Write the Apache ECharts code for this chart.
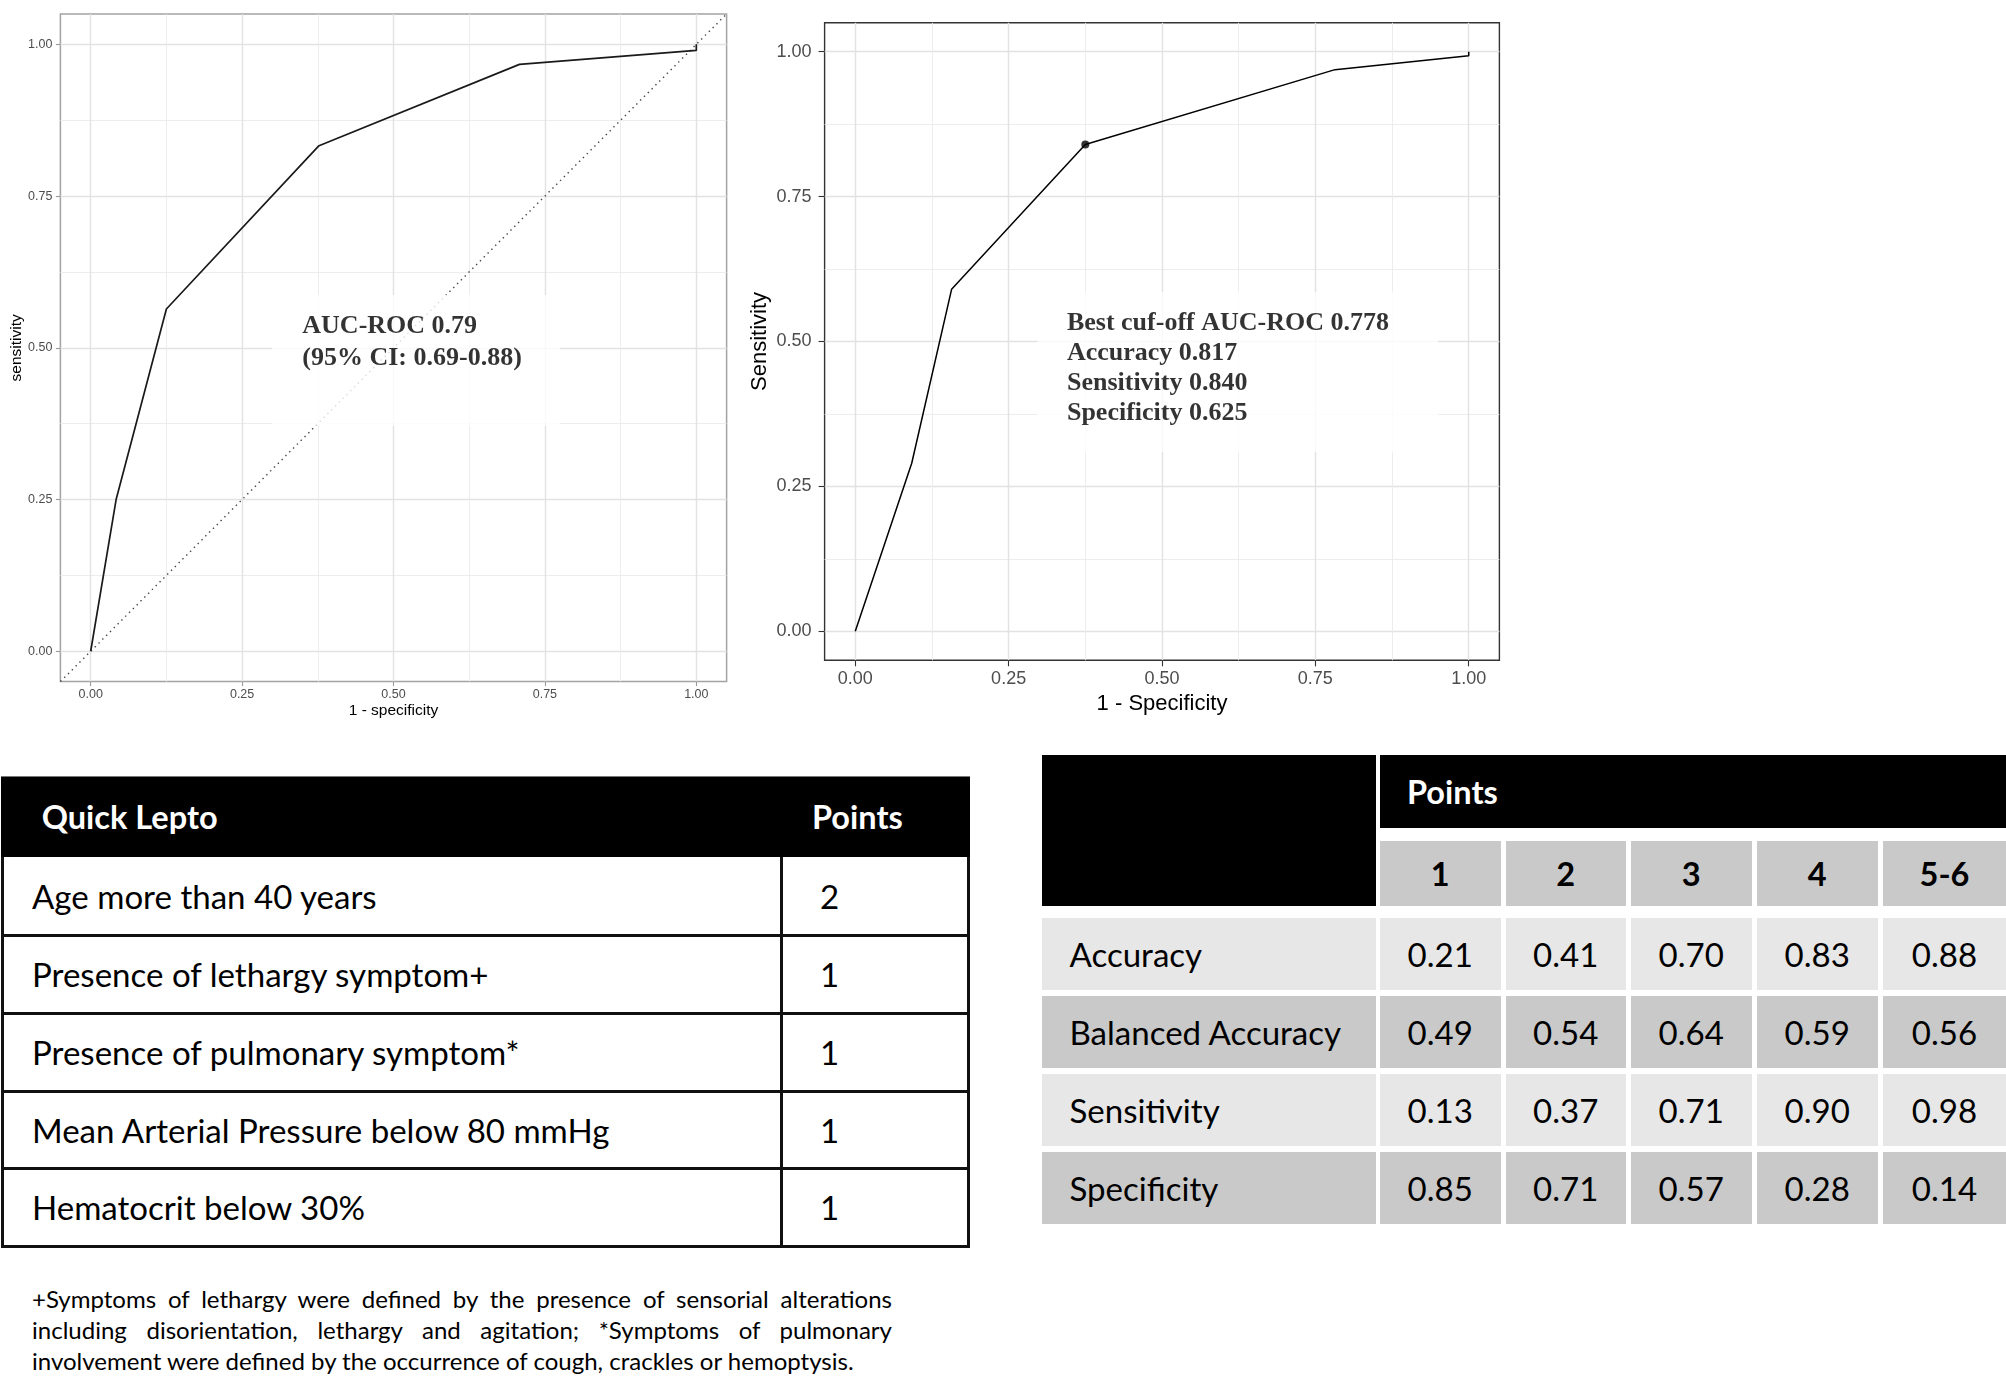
<!DOCTYPE html>
<html><head><meta charset="utf-8">
<script src="https://cdn.jsdelivr.net/npm/echarts@6/dist/echarts.min.js"></script>
<style>
html,body{margin:0;padding:0;background:#fff;}
body{width:2006px;height:1378px;position:relative;overflow:hidden;font-family:Lato,'Liberation Sans',sans-serif;}
#chart{position:absolute;left:0;top:0;width:2006px;height:740px;}
.abs{position:absolute;box-sizing:border-box;}
.cell{position:absolute;box-sizing:border-box;display:flex;align-items:center;white-space:nowrap;}
</style></head><body>
<div id="chart"></div>
<div id="tables"></div>
<script>
// ---------------- DATA ----------------
// Left ROC (1 - specificity vs sensitivity)
const roc1X = [0, 0.042, 0.125, 0.377, 0.708, 1.0, 1.0];
const roc1Y = [0, 0.250, 0.564, 0.833, 0.967, 0.990, 1.0];
const diagX = [-0.05, 1.05];
const diagY = [-0.05, 1.05];
const anno1Lines = ['AUC-ROC 0.79', '(95% CI: 0.69-0.88)'];

// Right ROC
const roc2X = [0, 0.092, 0.157, 0.375, 0.782, 1.0, 1.0];
const roc2Y = [0, 0.290, 0.590, 0.840, 0.969, 0.993, 1.0];
const cutoffX = [0.375];
const cutoffY = [0.840];
const anno2Lines = ['Best cuf-off AUC-ROC 0.778', 'Accuracy 0.817', 'Sensitivity 0.840', 'Specificity 0.625'];

// Axis ticks
const tickValues = [0, 0.25, 0.5, 0.75, 1];
const minorValues = [0.125, 0.375, 0.625, 0.875];

// Quick Lepto table
const qlHeader = ['Quick Lepto', 'Points'];
const qlItems = ['Age more than 40 years', 'Presence of lethargy symptom+', 'Presence of pulmonary symptom*', 'Mean Arterial Pressure below 80 mmHg', 'Hematocrit below 30%'];
const qlPoints = [2, 1, 1, 1, 1];

// Performance table
const perfHeader = 'Points';
const pointCategories = ['1', '2', '3', '4', '5-6'];
const metricNames = ['Accuracy', 'Balanced Accuracy', 'Sensitivity', 'Specificity'];
const accuracy = [0.21, 0.41, 0.70, 0.83, 0.88];
const balancedAccuracy = [0.49, 0.54, 0.64, 0.59, 0.56];
const sensitivity = [0.13, 0.37, 0.71, 0.90, 0.98];
const specificity = [0.85, 0.71, 0.57, 0.28, 0.14];

const footnoteLines = [
  '+Symptoms of lethargy were defined by the presence of sensorial alterations',
  'including disorientation, lethargy and agitation; *Symptoms of pulmonary',
  'involvement were defined by the occurrence of cough, crackles or hemoptysis.'
];

// ---------------- CHARTS ----------------
const zip = (a, b) => a.map((v, i) => [v, b[i]]);

function makeAxes(gi, s) {
  const common = {type: 'value', gridIndex: gi, min: -0.05, max: 1.05};
  const labelStyle = {color: '#4d4d4d', fontSize: s.labelSize, fontFamily: 'Liberation Sans'};
  const nameStyle = {color: '#000', fontSize: s.nameSize, fontFamily: 'Liberation Sans'};
  const major = (isX) => Object.assign({}, common, {
    position: isX ? 'bottom' : 'left',
    axisLine: {show: false, onZero: false},
    axisTick: {show: true, length: s.tickLen, lineStyle: {color: s.tickColor, width: 1.1}, customValues: tickValues},
    axisLabel: Object.assign({show: true, customValues: tickValues, formatter: v => Number(v).toFixed(2), margin: isX ? s.xMargin : s.yMargin}, labelStyle),
    splitLine: {show: true, lineStyle: {color: '#e2e2e2', width: 1.4}},
    name: isX ? s.xName : s.yName, nameLocation: 'middle', nameGap: isX ? s.xNameGap : s.yNameGap,
    nameTextStyle: nameStyle, nameMoveOverlap: false
  });
  const minor = (isX) => Object.assign({}, common, {
    position: isX ? 'top' : 'right',
    axisLine: {show: false, onZero: false},
    axisTick: {show: false, customValues: minorValues},
    axisLabel: {show: false},
    splitLine: {show: true, lineStyle: {color: '#ebebeb', width: 0.9}}
  });
  return {x: [major(true), minor(true)], y: [major(false), minor(false)]};
}

const ax1 = makeAxes(0, {tickLen: 4.5, tickColor: '#999', labelSize: 12.5, nameSize: 15.5, xMargin: 6, yMargin: 8,
  xNameGap: 21, yNameGap: 36, xName: '1 - specificity', yName: 'sensitivity'});
const ax2 = makeAxes(1, {tickLen: 6, tickColor: '#333', labelSize: 18, nameSize: 22, xMargin: 10, yMargin: 13,
  xNameGap: 33, yNameGap: 54, xName: '1 - Specificity', yName: 'Sensitivity'});

const annoLabel = (lines, pad, w, lh) => ({
  show: true, position: [0, 0], formatter: lines.join('\n'),
  fontFamily: 'Liberation Serif', fontWeight: 'bold', fontSize: 26, lineHeight: lh, color: '#000',
  backgroundColor: '#fff', padding: pad, width: w, align: 'left'
});

const option = {
  animation: false,
  backgroundColor: '#fff',
  grid: [
    {left: 60.4, top: 14, width: 666.2, height: 667.6, show: true, borderColor: '#a3a3a3', borderWidth: 1.5, backgroundColor: '#fff', containLabel: false, outerBoundsMode: 'none'},
    {left: 824.6, top: 22.7, width: 674.8, height: 637.6, show: true, borderColor: '#333', borderWidth: 1.4, backgroundColor: '#fff', containLabel: false, outerBoundsMode: 'none'}
  ],
  xAxis: [...ax1.x, ...ax2.x],
  yAxis: [...ax1.y, ...ax2.y],
  series: [
    {type: 'line', xAxisIndex: 0, yAxisIndex: 0, data: zip(diagX, diagY), symbol: 'none', silent: true, z: 2,
      lineStyle: {color: '#444', width: 1.4, type: [1.4, 4]}},
    {type: 'line', xAxisIndex: 0, yAxisIndex: 0, data: zip(roc1X, roc1Y), symbol: 'none', silent: true, z: 3,
      lineStyle: {color: '#1a1a1a', width: 1.7}},
    {type: 'scatter', xAxisIndex: 0, yAxisIndex: 0, data: [[0.299, 0.587]], symbolSize: 0.1, silent: true, z: 5,
      itemStyle: {color: 'rgba(0,0,0,0)'}, label: annoLabel(anno1Lines, [15.75, 0, 52, 30.6], 257.4, 31.5)},
    {type: 'line', xAxisIndex: 2, yAxisIndex: 2, data: zip(roc2X, roc2Y), symbol: 'none', silent: true, z: 3,
      lineStyle: {color: '#000', width: 1.5}},
    {type: 'scatter', xAxisIndex: 2, yAxisIndex: 2, data: zip(cutoffX, cutoffY), symbol: 'circle', symbolSize: 8, silent: true, z: 4,
      itemStyle: {color: '#000'}},
    {type: 'scatter', xAxisIndex: 2, yAxisIndex: 2, data: [[0.297, 0.5847]], symbolSize: 0.1, silent: true, z: 5,
      itemStyle: {color: 'rgba(0,0,0,0)'}, label: annoLabel(anno2Lines, [16, 0, 24, 29.5], 371.3, 30)}
  ]
};
const chart = echarts.init(document.getElementById('chart'), null, {renderer: 'canvas'});
chart.setOption(option);

// ---------------- TABLES ----------------
const ctx = document.createElement('canvas').getContext('2d');
function fitFont(text, weight, target) {
  ctx.font = weight + ' 100px Lato';
  return 100 * target / ctx.measureText(text).width;
}
const bodyFs = (fitFont('Age more than 40 years', '400', 347) + fitFont('Balanced Accuracy', '400', 271) +
  fitFont('Mean Arterial Pressure below 80 mmHg', '400', 581)) / 3;
const boldFs = fitFont('Quick Lepto', '700', 176);
const noteFs = fitFont(footnoteLines[2], '400', 824);

const root = document.getElementById('tables');
function div(cls, css, text) {
  const d = document.createElement('div');
  d.className = cls;
  Object.assign(d.style, css);
  if (text !== undefined) d.textContent = text;
  root.appendChild(d);
  return d;
}
const px = v => v + 'px';

// Quick Lepto table
const qlLeft = 1, qlTop = 776, qlWidth = 969, qlHeaderH = 81;
const qlRowH = [78, 78, 78, 77, 77];
const qlDivX = 781.7;
const totalH = qlHeaderH + qlRowH.reduce((a, b) => a + b, 0) + 3;
div('abs', {left: px(qlLeft), top: px(qlTop), width: px(qlWidth), height: px(totalH), border: '3px solid #111', background: '#fff'});
div('abs', {left: px(qlLeft), top: px(qlTop), width: px(qlWidth), height: px(qlHeaderH), background: '#000', borderTop: '1px solid #777'});
div('cell', {left: px(41.7), top: px(qlTop), height: px(qlHeaderH), color: '#fff', fontWeight: '700', fontSize: px(boldFs)}, qlHeader[0]);
div('cell', {left: px(812), top: px(qlTop), height: px(qlHeaderH), color: '#fff', fontWeight: '700', fontSize: px(boldFs)}, qlHeader[1]);
let y = qlTop + qlHeaderH;
div('abs', {left: px(qlDivX - 1.5), top: px(y), width: '3px', height: px(totalH - qlHeaderH), background: '#111'});
qlItems.forEach((item, i) => {
  if (i > 0) div('abs', {left: px(qlLeft), top: px(y - 1.5), width: px(qlWidth), height: '3px', background: '#111'});
  div('cell', {left: px(32), top: px(y), height: px(qlRowH[i]), color: '#000', fontSize: px(bodyFs)}, item);
  div('cell', {left: px(820), top: px(y), height: px(qlRowH[i]), color: '#000', fontSize: px(bodyFs)}, String(qlPoints[i]));
  y += qlRowH[i];
});

// Performance table
const ptColX = [1042, 1380, 1505.5, 1631, 1757, 1883];
const ptColW = [333.5, 120.5, 120.5, 120.5, 120.5, 123];
const ptTop = 754.5;
div('abs', {left: px(ptColX[0]), top: px(ptTop), width: px(ptColW[0]), height: px(151), background: '#000'});
div('cell', {left: px(ptColX[1]), top: px(ptTop), width: px(2006 - ptColX[1]), height: px(73.5), background: '#000',
  color: '#fff', fontWeight: '700', fontSize: px(boldFs), paddingLeft: px(27)}, perfHeader);
pointCategories.forEach((c, i) => {
  div('cell', {left: px(ptColX[i + 1]), top: px(841), width: px(ptColW[i + 1]), height: px(64.5), background: '#c9c9c9',
    color: '#000', fontWeight: '700', fontSize: px(boldFs), justifyContent: 'center'}, c);
});
const metricValues = [accuracy, balancedAccuracy, sensitivity, specificity];
metricNames.forEach((name, r) => {
  const top = 917.5 + 78 * r;
  const bg = r % 2 === 0 ? '#e7e7e7' : '#c9c9c9';
  div('cell', {left: px(ptColX[0]), top: px(top), width: px(ptColW[0]), height: px(72), background: bg,
    color: '#000', fontSize: px(bodyFs), paddingLeft: px(27.5)}, name);
  metricValues[r].forEach((v, i) => {
    div('cell', {left: px(ptColX[i + 1]), top: px(top), width: px(ptColW[i + 1]), height: px(72), background: bg,
      color: '#000', fontSize: px(bodyFs), justifyContent: 'center'}, v.toFixed(2));
  });
});

// Footnote
footnoteLines.forEach((line, i) => {
  const last = i === footnoteLines.length - 1;
  div('abs', {left: px(32), top: px(1283 + 31.2 * i), width: px(860), height: px(31), lineHeight: '31px',
    fontSize: px(noteFs), color: '#000', whiteSpace: 'nowrap',
    textAlign: last ? 'left' : 'justify', textAlignLast: last ? 'left' : 'justify'}, line);
});
</script>
</body></html>
